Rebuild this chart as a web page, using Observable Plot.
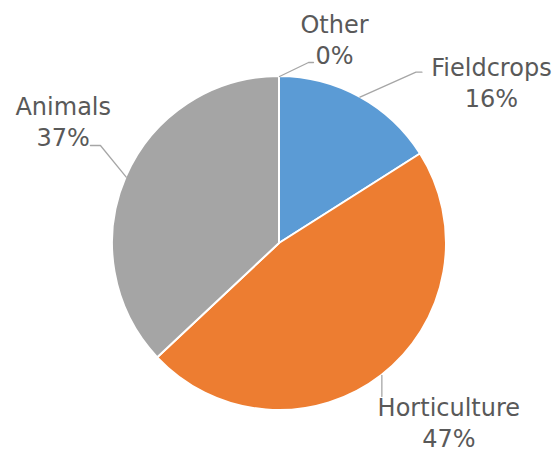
<!DOCTYPE html>
<html><head><meta charset="utf-8">
<script src="https://cdn.jsdelivr.net/npm/d3@7"></script>
<script src="https://cdn.jsdelivr.net/npm/@observablehq/plot@0.6"></script>
<style>html,body{margin:0;padding:0;background:#fff}</style>
</head><body><div id="chart"></div>
<script>
// ---- data ----
const categories = ["Fieldcrops", "Horticulture", "Animals", "Other"];
const shares = [16, 47, 37, 0];
const percentLabels = ["16%", "47%", "37%", "0%"];
const colors = ["#5B9BD5", "#ED7D31", "#A5A5A5", "#FFC000"];

// ---- layout (pixels) ----
const W = 558, H = 453;
const CX = 279, CY = 243, R = 167;
const FONT = 24, LINE = 31;
// offsets from each slice's rim point at its mid-angle (px, y down)
const layout = {
  Fieldcrops:   {label: [131.5, 10],  path: [[56, -25], [62, -25]]},
  Horticulture: {label: [67, 72],     path: [[0, 21]]},
  Animals:      {label: [-63, -31],   path: [[-25.8, -31.7], [-35.8, -31.7]]},
  Other:        {label: [55, -13],    path: [[29, -14], [34, -14]]}
};

// pie geometry in "radius units" (center 0,0, radius 1, y up)
const data = categories.map((c, i) => ({category: c, value: shares[i], pct: percentLabels[i]}));
const arcs = d3.pie().sort(null).value(d => d.value)(data);
const rim = arcs.map(a => {
  const t = (a.startAngle + a.endAngle) / 2;
  return {category: a.data.category, x: Math.sin(t), y: Math.cos(t)};
});
const u = ([dx, dy], p) => ({x: p.x + dx / R, y: p.y - dy / R});

const labels = rim.map((p, i) => ({...u(layout[p.category].label, p), text: `${data[i].category}\n${data[i].pct}`}));
const leaders = rim.flatMap(p => [{category: p.category, x: p.x, y: p.y},
  ...layout[p.category].path.map(o => ({category: p.category, ...u(o, p)}))]);

const colorScale = Plot.scale({color: {type: "ordinal", domain: categories, range: colors}});

function pie(index, scales) {
  const {x, y} = scales;
  const r = x(1) - x(0);
  const g = d3.create("svg:g").attr("transform", `translate(${x(0)},${y(0)})`);
  const arc = d3.arc().innerRadius(0).outerRadius(r);
  g.selectAll("path").data(arcs).join("path")
    .attr("d", arc)
    .attr("fill", d => colorScale.apply(d.data.category))
    .attr("stroke", "#fff")
    .attr("stroke-width", 2)
    .attr("stroke-linejoin", "round");
  return g.node();
}

const chart = Plot.plot({
  width: W, height: H, margin: 0,
  x: {domain: [-CX / R, (W - CX) / R], axis: null},
  y: {domain: [-(H - CY) / R, CY / R], axis: null},
  style: {fontFamily: "DejaVu Sans", background: "#fff"},
  marks: [
    pie,
    Plot.line(leaders, {x: "x", y: "y", z: "category", stroke: "#A6A6A6", strokeWidth: 1.3}),
    Plot.text(labels, {x: "x", y: "y", text: "text", lineAnchor: "bottom", lineHeight: LINE / FONT,
      fontSize: FONT, fill: "#595959", textAnchor: "middle"})
  ]
});
document.getElementById("chart").appendChild(chart);
</script>
</body></html>
